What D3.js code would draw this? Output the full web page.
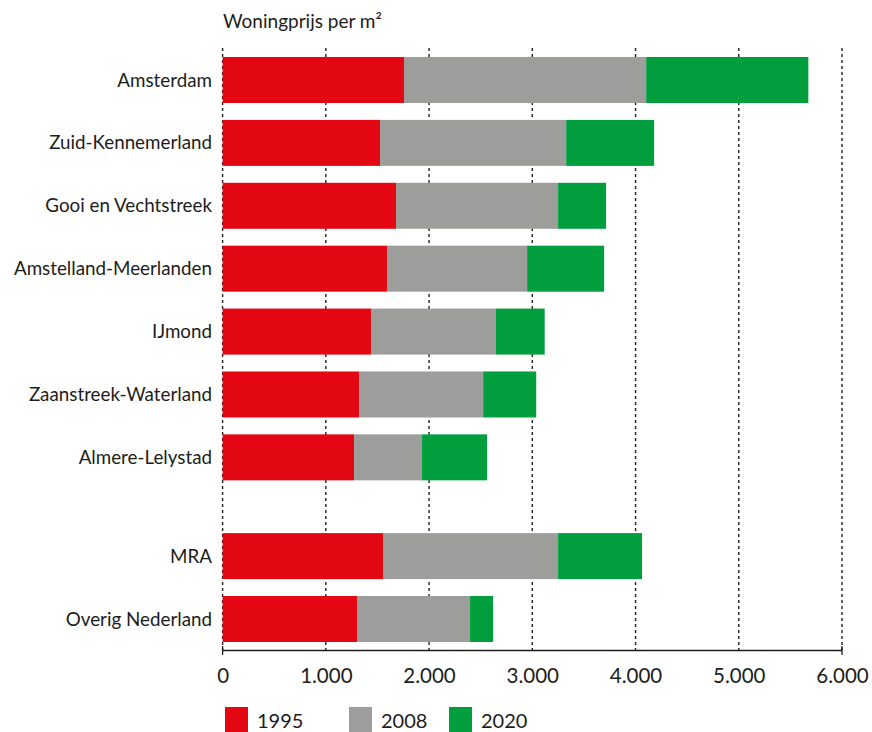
<!DOCTYPE html>
<html><head><meta charset="utf-8">
<script src="https://cdn.jsdelivr.net/npm/d3@7"></script>
<style>
html,body{margin:0;padding:0;background:#fff;}
svg text{font-family:Lato,"Noto Sans",sans-serif;fill:#1d1d1b;}
</style></head>
<body><svg id="c" width="872" height="732"></svg>
<script>
const regions = ["Amsterdam","Zuid-Kennemerland","Gooi en Vechtstreek","Amstelland-Meerlanden","IJmond","Zaanstreek-Waterland","Almere-Lelystad","MRA","Overig Nederland"];
const groupOf = [0,0,0,0,0,0,0,1,1];
const price1995 = [1757,1525,1680,1593,1438,1322,1273,1554,1302];
const price2008 = [4103,3328,3250,2950,2645,2524,1932,3250,2397];
const price2020 = [5674,4180,3715,3696,3120,3038,2562,4063,2620];
const years = ["1995","2008","2020"];
const colors = ["#E30613","#9D9D9C","#009E3D"];
const xTicks = [0,1000,2000,3000,4000,5000,6000];
const title = "Woningprijs per m²";

const svg = d3.select("#c");
const x = d3.scaleLinear().domain([0,6000]).range([222.6,842]);
const groupGap = 0.57;
const slot = regions.map((r,i)=> i + groupOf[i]*groupGap);
const y = d3.scaleLinear().domain([0, 8 + groupGap]).range([57, 596]);
const barH = 46;

// gridlines
svg.append("g").selectAll("line").data(xTicks).join("line")
  .attr("x1",d=>x(d)).attr("x2",d=>x(d))
  .attr("y1",48).attr("y2",650)
  .attr("stroke","#222").attr("stroke-width",1.4)
  .attr("stroke-dasharray","3,3");

// bars
const segs = [];
regions.forEach((r,i)=>{
  const vals=[0,price1995[i],price2008[i],price2020[i]];
  for(let k=0;k<3;k++) segs.push({i,k,x0:vals[k],x1:vals[k+1]});
});
svg.append("g").selectAll("rect").data(segs).join("rect")
  .attr("x",d=>x(d.x0)).attr("width",d=>x(d.x1)-x(d.x0))
  .attr("y",d=>y(slot[d.i])).attr("height",barH)
  .attr("fill",d=>colors[d.k]);

// category labels
svg.append("g").selectAll("text").data(regions).join("text")
  .attr("x",212).attr("y",(d,i)=>y(slot[i])+barH/2)
  .attr("dy","0.35em").attr("text-anchor","end")
  .attr("font-size",18.8).text(d=>d);

// x axis
const axis = d3.axisBottom(x).tickValues(xTicks)
  .tickFormat(d=>d3.format(",")(d).replace(/,/g,".")).tickSize(0).tickPadding(18);
const ax = svg.append("g").attr("transform","translate(0,650.5)").call(axis);
ax.select(".domain").attr("stroke","#1d1d1b").attr("stroke-width",1.6).attr("d",`M${x(0)},0H${x(6000)}`);
ax.selectAll("text").attr("font-size",20.5).attr("font-family","Lato,sans-serif").attr("fill","#1d1d1b");
svg.append("g").selectAll("line").data([0,6000]).join("line")
  .attr("x1",d=>x(d)).attr("x2",d=>x(d)).attr("y1",646).attr("y2",655)
  .attr("stroke","#1d1d1b").attr("stroke-width",1.3);

// title
svg.append("text").attr("x",223).attr("y",28).attr("font-size",19).text(title);

// legend
const lx=[225,349,449];
const lg = svg.append("g").selectAll("g").data(years).join("g")
  .attr("transform",(d,i)=>`translate(${lx[i]},707)`);
lg.append("rect").attr("width",23).attr("height",25).attr("fill",(d,i)=>colors[i]);
lg.append("text").attr("x",32).attr("y",20.5).attr("font-size",20).text(d=>d);
</script></body></html>
